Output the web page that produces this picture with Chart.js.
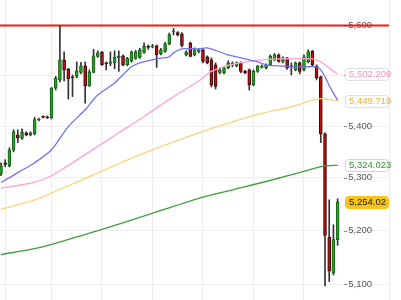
<!DOCTYPE html>
<html><head><meta charset="utf-8">
<script src="https://cdn.jsdelivr.net/npm/chart.js@4.4.1/dist/chart.umd.min.js"></script>
<style>html,body{margin:0;padding:0;background:#fff}#wrap{width:401px;height:300px;position:relative}</style>
</head><body><div id="wrap"><canvas id="c"></canvas></div>
<script>
const opens  = [5308,5329,5323,5354,5383,5376,5387,5383,5385,5412,5419,5418,5416,5475,5491,5531,5512,5497,5498,5506,5519,5479,5506,5538,5546,5525,5524,5525,5535,5539,5521,5529,5534,5536,5546,5558,5557,5559,5543,5548,5563,5587,5586,5583,5541,5564,5541,5548,5551,5537,5531,5521,5506,5505,5515,5522,5519,5525,5508,5511,5481,5508,5516,5515,5521,5531,5541,5528,5535,5519,5511,5525,5511,5527,5548,5518,5497,5385,5187,5121,5183];
const highs  = [5329,5335,5358,5393,5393,5395,5389,5389,5417,5416,5420,5420,5476,5498,5599,5547,5514,5501,5527,5526,5527,5511,5552,5549,5548,5527,5547,5549,5549,5541,5536,5549,5550,5554,5565,5561,5562,5561,5554,5566,5585,5594,5588,5586,5549,5567,5555,5553,5553,5539,5535,5525,5515,5517,5529,5527,5527,5527,5510,5513,5511,5520,5521,5523,5541,5544,5543,5537,5536,5525,5527,5527,5541,5551,5550,5521,5499,5387,5258,5211,5260];
const lows   = [5304,5321,5321,5350,5368,5374,5381,5381,5383,5410,5416,5415,5414,5471,5487,5489,5453,5458,5495,5503,5445,5478,5505,5536,5520,5511,5519,5513,5508,5519,5519,5526,5532,5534,5544,5552,5555,5516,5541,5546,5561,5581,5579,5557,5539,5537,5539,5545,5525,5523,5477,5473,5503,5503,5513,5517,5517,5505,5503,5471,5479,5506,5515,5513,5519,5529,5526,5525,5512,5501,5509,5503,5509,5525,5519,5491,5368,5097,5105,5117,5172];
const closes = [5323,5326,5354,5389,5377,5388,5383,5387,5413,5414,5417,5416,5475,5494,5531,5511,5493,5495,5509,5519,5479,5507,5539,5545,5521,5523,5527,5536,5538,5521,5534,5546,5547,5551,5558,5556,5559,5541,5551,5563,5582,5588,5581,5560,5546,5538,5551,5551,5528,5525,5481,5478,5511,5515,5525,5524,5524,5508,5505,5481,5508,5518,5518,5521,5538,5541,5528,5535,5515,5517,5525,5508,5537,5547,5521,5495,5385,5191,5124,5183,5254.02];

const maFastIdx = [0,4,8,12,16,20,23,27,31,33,37,40,41,43,47,49,54,61,63,66,69,72,75,76,77,78,79,80];
const maFast    = [5291,5310,5329,5354,5399,5432,5461,5485,5517,5525,5533,5537,5545,5553,5553,5555,5541,5527,5521,5519,5517,5517,5517,5511,5497,5480,5465,5451];
const ma50Idx = [0,8,12,21,28,34,41,47,50,55,61,66,74,76,78,80];
const ma50    = [5280,5292,5304,5350,5387,5419,5458,5489,5508,5522,5530,5533,5533,5527,5515,5502.209];
const ma100Idx = [0,8,12,24,35,47,54,62,69,74,76,78,80];
const ma100    = [5240,5258,5271,5313,5351,5387,5406,5425,5438,5451,5454,5452,5449.719];
const ma200Idx = [0,8,12,18,24,35,47,55,63,73,77,80];
const ma200    = [5155,5166,5174,5188,5202,5230,5261,5277,5293,5315,5323,5324.023];

const yTicks = [5100,5200,5300,5400,5500,5600];
const xGridTicks = [1,12,24,36,48,60,72];
const resistance = 5600;

const tagValues = [ma50[ma50.length-1], ma100[ma100.length-1], ma200[ma200.length-1], closes[closes.length-1]];
const tagDecimals = [3,3,3,2];

const UP='#1fa51f', DOWN='#b80f0f';
const candleColor = closes.map((c,i)=> c>=opens[i]?UP:DOWN);
const candleBorder = closes.map((c,i)=> c>=opens[i]?'#195c19':'#3a0a0a');

const fmt=(v,d)=>Number(v).toLocaleString('en-US',{minimumFractionDigits:d,maximumFractionDigits:d});

const overlay = {
  id:'overlay',
  beforeDatasetsDraw(chart){
    const {ctx,chartArea,scales:{y}}=chart;
    const py=y.getPixelForValue(resistance);
    ctx.save();
    ctx.strokeStyle='#ee1c1c'; ctx.lineWidth=2;
    ctx.beginPath(); ctx.moveTo(chartArea.left,py); ctx.lineTo(chartArea.right,py); ctx.stroke();
    ctx.restore();
  },
  afterDraw(chart){
    const {ctx,chartArea,scales:{y}}=chart;
    ctx.save();
    ctx.strokeStyle='#888'; ctx.lineWidth=1;
    y.ticks.forEach(t=>{
      const py=Math.round(y.getPixelForValue(t.value))+0.5;
      ctx.beginPath(); ctx.moveTo(chartArea.right-45,py); ctx.lineTo(chartArea.right-42,py); ctx.stroke();
    });
    const styles=[
      {bg:'#fff',bd:'#dddddd',fg:'#f590c6'},
      {bg:'#fff',bd:'#dddddd',fg:'#f3b136'},
      {bg:'#fff',bd:'#d6d6d6',fg:'#2e9a2e'},
      {bg:'#f7c41d',bd:'#f7c41d',fg:'#222'}
    ];
    ctx.font='9.5px Arial';
    ctx.textBaseline='middle';
    tagValues.forEach((v,k)=>{
      const py=y.getPixelForValue(v);
      const x0=chartArea.right-43.5, w=43, h=12;
      const s=styles[k];
      ctx.beginPath();
      ctx.roundRect(x0,Math.round(py-h/2)+0.5,w,h,3);
      ctx.fillStyle=s.bg; ctx.fill();
      ctx.strokeStyle=s.bd; ctx.stroke();
      ctx.fillStyle=s.fg;
      ctx.fillText(fmt(v,tagDecimals[k]),x0+3.5,Math.round(py)+0.5);
    });
    ctx.restore();
  }
};

Chart.defaults.font.family='Arial';
new Chart(document.getElementById('c'),{
  type:'bar',
  data:{datasets:[
    {type:'line',label:'MA fast',data:maFastIdx.map((x,k)=>({x,y:maFast[k]})),borderColor:'#7272ee',borderWidth:1.3,pointRadius:0,tension:0.3,order:0},
    {type:'line',label:'MA 50',data:ma50Idx.map((x,k)=>({x,y:ma50[k]})),borderColor:'#ffa3d3',borderWidth:1.3,pointRadius:0,tension:0.3,order:0},
    {type:'line',label:'MA 100',data:ma100Idx.map((x,k)=>({x,y:ma100[k]})),borderColor:'#ffd27a',borderWidth:1.3,pointRadius:0,tension:0.3,order:0},
    {type:'line',label:'MA 200',data:ma200Idx.map((x,k)=>({x,y:ma200[k]})),borderColor:'#3f9f3f',borderWidth:1.3,pointRadius:0,tension:0.3,order:0},
    {label:'body',data:opens.map((o,i)=>({x:i,y:[o,closes[i]]})),backgroundColor:candleColor,borderColor:candleBorder,borderWidth:1,borderSkipped:false,barThickness:3,minBarLength:1,grouped:false,order:1},
    {label:'wick',data:lows.map((l,i)=>({x:i,y:[l,highs[i]]})),backgroundColor:'#333',borderWidth:0,barThickness:1,grouped:false,order:2}
  ]},
  options:{
    responsive:true,maintainAspectRatio:false,animation:false,
    layout:{padding:{left:0,right:12,top:0,bottom:0}},
    plugins:{legend:{display:false},tooltip:{enabled:false}},
    scales:{
      x:{type:'linear',min:-0.2377,max:92.21,offset:false,
        grid:{offset:false,color:'#ececec',drawTicks:false},
        border:{display:false},
        ticks:{display:false},
        afterBuildTicks:s=>{s.ticks=[...xGridTicks,s.max].map(v=>({value:v}));}
      },
      y:{type:'logarithmic',position:'right',min:5071,max:5652,beginAtZero:false,
        border:{display:false},
        grid:{color:'#eeeeee',drawTicks:false},
        ticks:{mirror:true,crossAlign:'far',padding:-17,color:'#555',font:{size:9.5},
          callback:v=>Number(v).toLocaleString('en-US')},
        afterBuildTicks:s=>{s.ticks=yTicks.map(v=>({value:v}));}
      }
    }
  },
  plugins:[overlay]
});
</script></body></html>
